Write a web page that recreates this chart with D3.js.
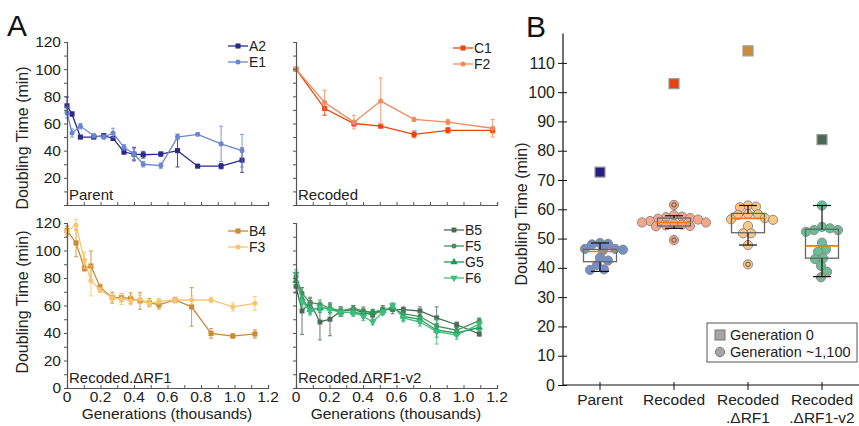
<!DOCTYPE html>
<html>
<head>
<meta charset="utf-8">
<script src="https://cdn.jsdelivr.net/npm/d3@7"></script>
<style>
  body { margin: 0; background: #fff; }
  svg { display: block; font-family: "Liberation Sans", Arial, Helvetica, sans-serif; }
</style>
</head>
<body>
<svg id="chart" width="859" height="426"></svg>
<script>
// ---- Panel A data (generations in thousands, doubling time in minutes) ----
const parentGen = [0, 0.03, 0.08, 0.16, 0.22, 0.275, 0.34, 0.40, 0.455, 0.56, 0.66, 0.78, 0.92, 1.045];
const a2Time = [73, 67, 50, 50, 51, 49, 39, 37.5, 37, 37.5, 40, 28.6, 28.6, 33];
const a2Err  = [6.5, 1.5, 1, 1, 1.5, 1.5, 1.5, 5, 2.5, 1.5, 12, 1, 2, 9];
const e1Time = [68, 53, 58, 51, 50, 53, 42.5, 37.5, 30, 29, 50, 52, 45, 40];
const e1Err  = [4, 3, 2, 1.5, 1.5, 3.5, 2, 4, 2, 2, 2, 1, 13, 12];

const recodedGen = [0, 0.171, 0.346, 0.506, 0.705, 0.907, 1.174];
const c1Time = [100, 71, 60, 58, 52, 55, 55];
const c1Err  = [1, 5, 2, 1, 2.5, 2, 2];
const f2Time = [100, 75.5, 61, 76.5, 63, 61, 56.5];
const f2Err  = [1, 9, 5, 17, 1.5, 2, 6.5];

const rf1Gen = [0, 0.054, 0.104, 0.143, 0.197, 0.27, 0.325, 0.38, 0.436, 0.492, 0.549, 0.645, 0.744, 0.86, 0.99, 1.122];
const b4Time = [114.5, 105.5, 87, 88.7, 73.5, 65.7, 65.7, 65.2, 63.3, 62.1, 60.4, 64, 59, 39.7, 37.8, 39.3];
const b4Err  = [3, 10, 2, 11, 2, 4, 3, 4, 6, 3, 3, 2, 14, 3.5, 1.5, 3];
const f3Time = [114, 118.5, 93, 78, 71.3, 65.7, 64.7, 63.5, 64.5, 61.6, 63, 64, 64, 64, 59, 61.6];
const f3Err  = [4, 4, 6, 11, 2, 3, 4, 3, 3, 2, 2, 2, 3, 2, 3, 5];

const v2Gen = [0, 0.036, 0.084, 0.143, 0.203, 0.267, 0.342, 0.402, 0.458, 0.518, 0.577, 0.641, 0.740, 0.840, 0.959, 1.094];
const b5Time = [74, 56, 62, 48, 50, 56, 57, 55, 53, 57, 57, 57, 56, 51, 46, 39.3];
const b5Err  = [5, 17, 4, 13, 12, 3, 3, 3, 3, 3, 3, 2, 3, 8, 2, 1.5];
const f5Time = [81, 69, 62, 61, 58, 56, 58, 56, 55, 57, 58, 54, 52, 45, 42, 49];
const f5Err  = [3, 4, 3, 3, 3, 3, 2, 3, 2, 2, 2, 3, 3, 5, 2, 2];
const g5Time = [78, 65, 57, 58, 58, 55, 55, 54, 55, 56, 59, 52, 50, 42, 40, 44];
const g5Err  = [3, 4, 3, 3, 3, 3, 2, 3, 2, 2, 2, 3, 3, 5, 2, 2];
const f6Time = [83, 63, 56, 59, 57, 55, 55, 52, 48, 55, 60, 51, 48, 41, 38.5, 46.5];
const f6Err  = [3, 4, 3, 3, 3, 3, 3, 3, 2, 2, 2, 3, 3, 9, 3, 2];

// ---- Panel B data ----
const groups = ['Parent', 'Recoded', 'Recoded\n.ΔRF1', 'Recoded\n.ΔRF1-v2'];
const gen0Time = [72.7, 102.9, 114.1, 83.8];
const parentPts  = [48.2, 48.5, 48.0, 46.5, 46.0, 46.2, 46.5, 42.5, 43.5, 41.0, 39.3, 39.5];
const recodedPts = [57.5, 57.0, 58.0, 56.5, 55.5, 56.0, 57.3, 54.5, 54.3, 55.0, 54.8, 55.5, 54.2, 56.8];
const rf1Pts     = [58.4, 60.7, 61.3, 60.9, 58.1, 58.3, 56.4, 56.6, 57.0, 54.3, 51.8, 51.8, 47.8];
const v2Pts      = [61.3, 53.5, 52.9, 52.3, 52.9, 54.0, 48.6, 46.3, 45.5, 43.0, 43.3, 40.7, 38.7, 36.8];
const outlierPts = [[], [61.5, 49.5], [41.2], []];
const whiskLo = [38.8, 53.5, 47.8, 37.0];
const boxQ1   = [42.1, 54.3, 52.0, 43.3];
const boxMed  = [45.6, 55.5, 56.9, 47.5];
const boxQ3   = [46.3, 57.0, 58.6, 53.2];
const whiskHi = [48.5, 57.8, 61.3, 61.3];

const font = 15;
const svg = d3.select('#chart');

// ================= Panel A =================
const panels = [
  { x0: 67,  yBot: 205, yTop: 42,  label: 'Parent', showY: true, showX: false, zeroLab: false,
    gen: parentGen, legX: 228, legY: 46, titleY: 138,
    series: [
      { name: 'A2', t: a2Time, e: a2Err, color: '#2b2a86', sym: d3.symbolSquare, size: 26 },
      { name: 'E1', t: e1Time, e: e1Err, color: '#6a88d0', sym: d3.symbolCircle, size: 20 }
    ] },
  { x0: 296, yBot: 205, yTop: 42,  label: 'Recoded', showY: false, showX: false,
    gen: recodedGen, legX: 453, legY: 48,
    series: [
      { name: 'C1', t: c1Time, e: c1Err, color: '#e8450f', sym: d3.symbolSquare, size: 26 },
      { name: 'F2', t: f2Time, e: f2Err, color: '#f28a5c', sym: d3.symbolCircle, size: 20 }
    ] },
  { x0: 67,  yBot: 388, yTop: 223, label: 'Recoded.ΔRF1', showY: true, showX: true, zeroLab: true,
    gen: rf1Gen, legX: 228, legY: 231, titleY: 302,
    series: [
      { name: 'B4', t: b4Time, e: b4Err, color: '#c98a32', sym: d3.symbolSquare, size: 26 },
      { name: 'F3', t: f3Time, e: f3Err, color: '#f9c46f', sym: d3.symbolCircle, size: 20 }
    ] },
  { x0: 296, yBot: 388, yTop: 223, label: 'Recoded.ΔRF1-v2', showY: false, showX: true,
    gen: v2Gen, legX: 444, legY: 230,
    series: [
      { name: 'B5', t: b5Time, e: b5Err, color: '#4b6b57', sym: d3.symbolSquare, size: 24 },
      { name: 'F5', t: f5Time, e: f5Err, color: '#4f8e60', sym: d3.symbolCircle, size: 20 },
      { name: 'G5', t: g5Time, e: g5Err, color: '#1f9a55', sym: d3.symbolTriangle, size: 24 },
      { name: 'F6', t: f6Time, e: f6Err, color: '#3dbd7e', sym: d3.symbolTriangle, size: 24, flip: true }
    ] }
];

panels.forEach(p => {
  const x = d3.scaleLinear().domain([0, 1.2]).range([p.x0, p.x0 + 201]);
  const y = d3.scaleLinear().domain([0, 120]).range([p.yBot, p.yTop]);
  const g = svg.append('g');

  // series lines, error bars, markers
  p.series.forEach(s => {
    const pts = p.gen.map((gv, i) => ({ g: gv, t: s.t[i], e: s.e[i] }));
    const line = d3.line().x(d => x(d.g)).y(d => y(d.t));
    g.append('path').datum(pts)
      .attr('d', line).attr('fill', 'none')
      .attr('stroke', s.color).attr('stroke-width', 1.3);
    const eb = g.append('g').attr('stroke', s.color).attr('stroke-width', 1).attr('opacity', 0.85);
    pts.forEach(d => {
      eb.append('line').attr('x1', x(d.g)).attr('x2', x(d.g)).attr('y1', y(d.t - d.e)).attr('y2', y(d.t + d.e));
      [d.t - d.e, d.t + d.e].forEach(v => {
        eb.append('line').attr('x1', x(d.g) - 2).attr('x2', x(d.g) + 2).attr('y1', y(v)).attr('y2', y(v));
      });
    });
    g.selectAll(null).data(pts).enter().append('path')
      .attr('d', d3.symbol().type(s.sym).size(s.size))
      .attr('transform', d => `translate(${x(d.g)},${y(d.t)})` + (s.flip ? ' rotate(180)' : ''))
      .attr('fill', s.color);
  });

  // axes
  const yAxis = d3.axisLeft(y).tickValues(d3.range(0, 121, 10)).tickSize(3)
    .tickFormat(d => (p.showY && d % 20 === 0 && (d > 0 || p.zeroLab)) ? d : '');
  const ya = g.append('g').attr('transform', `translate(${p.x0},0)`).call(yAxis);
  const xAxis = d3.axisTop(x).tickValues(d3.range(0, 1.21, 0.1)).tickSize(3).tickFormat('');
  const xa = g.append('g').attr('transform', `translate(0,${p.yBot})`).call(xAxis);
  [ya, xa].forEach(a => {
    a.select('.domain').attr('stroke', '#555').attr('stroke-width', 1.2);
    a.selectAll('.tick line').attr('stroke', '#555');
  });
  ya.selectAll('.tick text').attr('font-size', 15.5).attr('fill', '#222').attr('x', -6);

  if (p.showX) {
    g.selectAll(null).data([0, 0.2, 0.4, 0.6, 0.8, 1.0, 1.2]).enter().append('text')
      .attr('x', d => x(d)).attr('y', 402).attr('text-anchor', 'middle')
      .attr('font-size', 15.5).attr('fill', '#222')
      .text(d => d === 0 ? '0' : d.toFixed(1));
    g.append('text').attr('x', p.x0 + 100).attr('y', 419).attr('text-anchor', 'middle')
      .attr('font-size', 15.5).attr('fill', '#222').text('Generations (thousands)');
  }
  if (p.showY) {
    g.append('text')
      .attr('transform', `translate(28,${p.titleY}) rotate(-90)`)
      .attr('text-anchor', 'middle').attr('font-size', 16).attr('fill', '#222')
      .text('Doubling Time (min)');
  }

  g.append('text').attr('x', p.x0 + 2).attr('y', p.yBot - 5)
    .attr('font-size', font).attr('fill', '#222').text(p.label);

  // legend
  p.series.forEach((s, i) => {
    const ly = p.legY + i * 16;
    g.append('line').attr('x1', p.legX).attr('x2', p.legX + 20).attr('y1', ly).attr('y2', ly)
      .attr('stroke', s.color).attr('stroke-width', 1.3);
    g.append('path').attr('d', d3.symbol().type(s.sym).size(s.size)())
      .attr('transform', `translate(${p.legX + 10},${ly})` + (s.flip ? ' rotate(180)' : ''))
      .attr('fill', s.color);
    g.append('text').attr('x', p.legX + 21).attr('y', ly + 5)
      .attr('font-size', 14).attr('fill', '#222').text(s.name);
  });
});

svg.append('text').attr('x', 7).attr('y', 36).attr('font-size', 30).attr('fill', '#111').text('A');

// ================= Panel B =================
const bx = d3.scaleBand().domain(groups).range([563, 859]);
const by = d3.scaleLinear().domain([0, 120]).range([385, 33.6]);
const gB = svg.append('g');
const ptFill = ['#6d88c4', '#f5a283', '#fcc47c', '#62bb8e'];
const sqFill = ['#2a1f80', '#e8420f', '#cc8c3a', '#4a6755'];
const r = 4.6;

// simple deterministic swarm: place each point at the nearest free horizontal offset
function swarm(vals, cx) {
  const placed = [];
  vals.slice().sort((a, b) => b - a).forEach(v => {
    const cy = by(v);
    let dx = 0;
    for (let k = 0; k < 80; k++) {
      const cand = (k % 2 ? 1 : -1) * Math.ceil(k / 2);
      const ok = placed.every(q => Math.hypot(q.x - (cx + cand), q.y - cy) >= r * 1.7);
      if (ok) { dx = cand; break; }
    }
    placed.push({ x: cx + dx, y: cy, v });
  });
  return placed;
}

const allPts = [parentPts, recodedPts, rf1Pts, v2Pts];
groups.forEach((grp, i) => {
  const cx = bx(grp) + bx.bandwidth() / 2;
  const pts = swarm(allPts[i], cx);
  gB.selectAll(null).data(pts).enter().append('circle')
    .attr('cx', d => d.x).attr('cy', d => d.y).attr('r', r)
    .attr('fill', ptFill[i]).attr('stroke', '#8a8a8a').attr('stroke-width', 1).attr('fill-opacity', 0.95);
  outlierPts[i].forEach(v => {
    gB.append('circle').attr('cx', cx).attr('cy', by(v)).attr('r', r)
      .attr('fill', ptFill[i]).attr('stroke', '#8a8a8a').attr('stroke-width', 1);
    gB.append('circle').attr('cx', cx).attr('cy', by(v)).attr('r', 2.2)
      .attr('fill', 'none').attr('stroke', '#555').attr('stroke-width', 1);
  });
  // box
  gB.append('rect').attr('x', cx - 16.5).attr('width', 33)
    .attr('y', by(boxQ3[i])).attr('height', by(boxQ1[i]) - by(boxQ3[i]))
    .attr('fill', 'none').attr('stroke', '#666').attr('stroke-width', 1.3);
  gB.append('line').attr('x1', cx - 16.5).attr('x2', cx + 16.5)
    .attr('y1', by(boxMed[i])).attr('y2', by(boxMed[i]))
    .attr('stroke', '#f07d00').attr('stroke-width', 1.6);
  [[whiskHi[i], boxQ3[i]], [whiskLo[i], boxQ1[i]]].forEach(([w, b]) => {
    gB.append('line').attr('x1', cx).attr('x2', cx).attr('y1', by(w)).attr('y2', by(b))
      .attr('stroke', '#111').attr('stroke-width', 1.2);
    gB.append('line').attr('x1', cx - 9).attr('x2', cx + 9).attr('y1', by(w)).attr('y2', by(w))
      .attr('stroke', '#111').attr('stroke-width', 1.2);
  });
  // generation 0 square
  gB.append('rect').attr('x', cx - 5).attr('y', by(gen0Time[i]) - 5).attr('width', 10).attr('height', 10)
    .attr('fill', sqFill[i]).attr('stroke', '#999').attr('stroke-width', 1.2);
});

// B axes
const byAxis = d3.axisLeft(by).tickValues(d3.range(0, 111, 10)).tickSize(5);
const bya = gB.append('g').attr('transform', 'translate(563,0)').call(byAxis);
bya.selectAll('.tick line').attr('x2', 4).attr('x1', -5).attr('stroke', '#111');
bya.select('.domain').attr('d', `M0,${by(120)}V${by(0)}`).attr('stroke', '#111').attr('stroke-width', 1.2);
bya.selectAll('.tick text').attr('font-size', 16).attr('fill', '#222').attr('x', -8);

gB.append('line').attr('x1', 563).attr('x2', 859).attr('y1', by(0)).attr('y2', by(0))
  .attr('stroke', '#111').attr('stroke-width', 1.2);
groups.forEach(grp => {
  const cx = bx(grp) + bx.bandwidth() / 2;
  gB.append('line').attr('x1', cx).attr('x2', cx).attr('y1', by(0) - 3).attr('y2', by(0) + 5)
    .attr('stroke', '#111');
  grp.split('\n').forEach((t, k) => {
    gB.append('text').attr('x', cx).attr('y', 405 + k * 18).attr('text-anchor', 'middle')
      .attr('font-size', 15.5).attr('fill', '#222').text(t);
  });
});

gB.append('text').attr('transform', 'translate(527,214) rotate(-90)')
  .attr('text-anchor', 'middle').attr('font-size', 16).attr('fill', '#222')
  .text('Doubling Time (min)');
svg.append('text').attr('x', 526).attr('y', 37).attr('font-size', 30).attr('fill', '#111').text('B');

// B legend
gB.append('rect').attr('x', 707).attr('y', 323).attr('width', 150).attr('height', 39)
  .attr('fill', '#fff').attr('stroke', '#555').attr('stroke-width', 1);
gB.append('rect').attr('x', 715).attr('y', 330).attr('width', 10).attr('height', 10)
  .attr('fill', '#a6a6a6').attr('stroke', '#777');
gB.append('circle').attr('cx', 720).attr('cy', 352).attr('r', 4.6)
  .attr('fill', '#a6a6a6').attr('stroke', '#777');
gB.append('text').attr('x', 730).attr('y', 340).attr('font-size', 14.5).attr('fill', '#222').text('Generation 0');
gB.append('text').attr('x', 730).attr('y', 357).attr('font-size', 14.5).attr('fill', '#222').text('Generation ~1,100');
</script>
</body>
</html>
